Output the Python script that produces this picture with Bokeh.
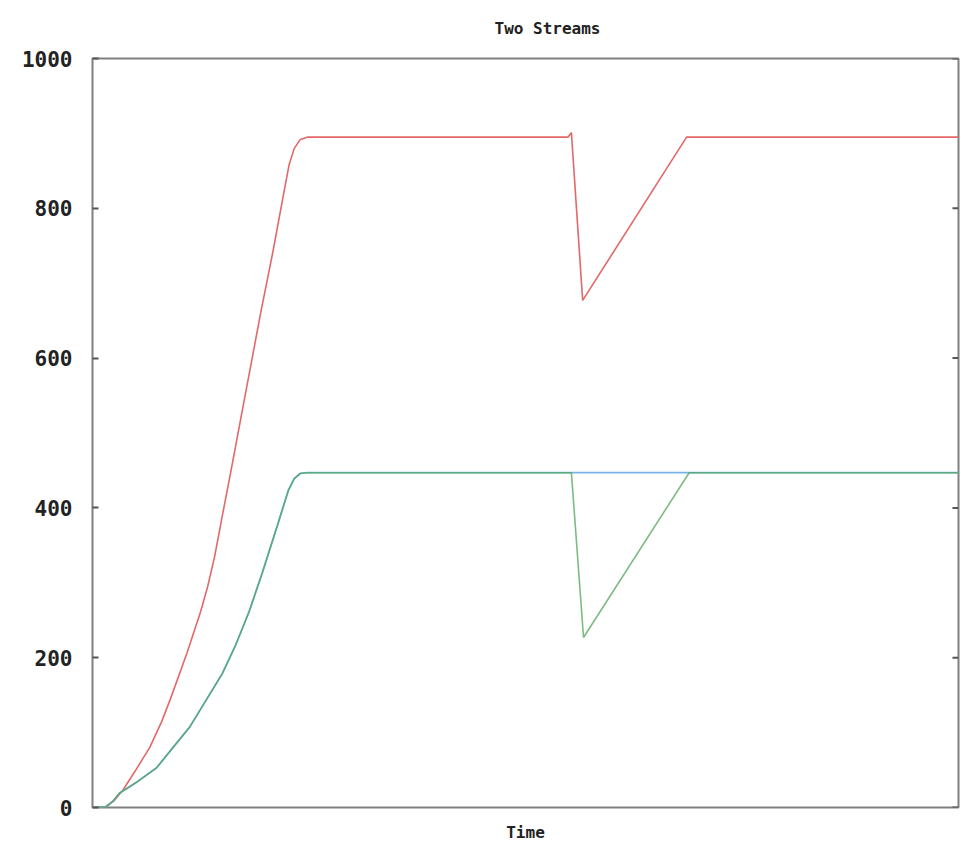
import math
from bokeh.plotting import figure
from bokeh.models import Range1d, FixedTicker
from bokeh.embed import file_html
from bokeh.resources import INLINE

# ---- data ----
red_t = [0, 1.5, 2.5, 3.5, 5, 6.6, 8, 9, 10.9, 12.5, 13.3, 14.1, 15, 16, 17.8, 19.5, 20.8, 22.0, 22.7, 23.3, 24.0, 24.8,
         54.9, 55.3, 56.6, 68.6, 100]
red_v = [0, 1, 9, 23, 50, 80, 115, 145, 206, 262, 295, 335, 390, 450, 561, 665, 740, 815, 858, 880, 892, 895,
         895, 901, 677, 895, 895]

rise_t = [0, 1.6, 2.4, 3.1, 5, 7.4, 9.5, 11.2, 13, 15.0, 16.5, 18.1, 19.6, 21.5, 22.6, 23.3, 24.0, 24.8]
rise_v = [0, 1, 9, 19, 33, 53, 83, 107, 141, 179, 216, 262, 313, 382, 423, 439, 446, 447]

blue_t = rise_t + [100]
blue_v = rise_v + [447]

green_t = rise_t + [55.3, 56.7, 68.9, 100]
green_v = rise_v + [447, 227, 447, 447]

y_ticks = [0, 200, 400, 600, 800, 1000]
x_max = 100
title_text = "Two Streams"
x_label = "Time"

FONT = "DejaVu Sans Mono"

p = figure(frame_width=866, frame_height=749, output_backend="svg", toolbar_location=None,
           x_range=Range1d(0, x_max), y_range=Range1d(0, 1000),
           min_border_left=92, min_border_right=4, min_border_top=58, min_border_bottom=40,
           title=title_text)
p.background_fill_color = "white"
p.border_fill_color = "white"
p.outline_line_color = "#808080"
p.outline_line_width = 2
p.xgrid.visible = False
p.ygrid.visible = False

p.title.text_font = FONT
p.title.text_font_size = "16px"
p.title.text_font_style = "bold"
p.title.text_color = "#222222"
p.title.align = "left"
p.title.offset = 402
p.title.standoff = 37
p.title.vertical_align = "top"

# x axis: label only
xa = p.xaxis[0]
xa.ticker = FixedTicker(ticks=[])
xa.axis_line_color = None
xa.axis_label = x_label
xa.axis_label_text_font = FONT
xa.axis_label_text_font_size = "16px"
xa.axis_label_text_font_style = "bold"
xa.axis_label_text_color = "#222222"
xa.axis_label_standoff = 15

# y axis
ya = p.yaxis[0]
ya.ticker = FixedTicker(ticks=y_ticks)
ya.axis_line_color = None
ya.major_tick_in = 6
ya.major_tick_out = 0
ya.major_tick_line_color = "#555555"
ya.major_tick_line_width = 2
ya.minor_tick_line_color = None
ya.major_label_standoff = 20
ya.major_label_text_font = FONT
ya.major_label_text_font_size = "21px"
ya.major_label_text_font_style = "bold"
ya.major_label_text_color = "#222222"

# mirrored inward ticks on the right edge
p.ray(x=[x_max] * len(y_ticks), y=y_ticks, length=6, length_units="screen",
      angle=math.pi, line_color="#555555", line_width=2)

p.line(red_t, red_v, line_color="#e46868", line_width=1.6)
p.line(blue_t, blue_v, line_color="#7ab4e6", line_width=1.8)
p.line(green_t, green_v, line_color="#4fa65a", line_width=1.6, line_alpha=0.75)

open("out.html", "w").write(file_html(p, INLINE))
